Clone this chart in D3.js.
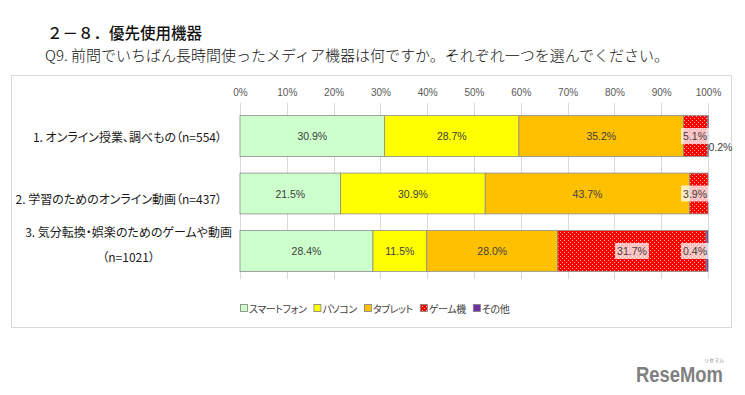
<!DOCTYPE html>
<html><head><meta charset="utf-8">
<script src="https://cdn.jsdelivr.net/npm/d3@7"></script>
<style>
body{margin:0;background:#fff}
text.p{font-feature-settings:"palt";}
</style></head><body>
<svg id="c" width="745" height="395"></svg>
<script>
// ---- data ----
const categories = ["c1", "c2", "c3"];
const categoryLabels = [
  ["1. オンライン授業、調べもの（n=554）"],
  ["2. 学習のためのオンライン動画（n=437）"],
  ["3. 気分転換・娯楽のためのゲームや動画", "（n=1021）"]
];
const seriesNames = ["スマートフォン", "パソコン", "タブレット", "ゲーム機", "その他"];
const smartphone = [30.9, 21.5, 28.4];
const pc = [28.7, 30.9, 11.5];
const tablet = [35.2, 43.7, 28.0];
const game = [5.1, 3.9, 31.7];
const other = [0.2, 0.0, 0.4];
const tickValues = [0, 10, 20, 30, 40, 50, 60, 70, 80, 90, 100];
const titleText = "２－８．優先使用機器";
const subtitleText = "Q9. 前問でいちばん長時間使ったメディア機器は何ですか。それぞれ一つを選んでください。";

// ---- setup ----
const JP = "'Noto Sans CJK JP','Noto Sans CJK SC',sans-serif";
const NUM = "'Liberation Sans','DejaVu Sans',sans-serif";
const colors = ["#CCFFCC", "#FFFF00", "#FFC000", "url(#dots)", "#7030A0"];
const seriesArrays = [smartphone, pc, tablet, game, other];

const svg = d3.select("#c");
const defs = svg.append("defs");
const pat = defs.append("pattern").attr("id", "dots").attr("patternUnits", "userSpaceOnUse")
  .attr("width", 4).attr("height", 4);
pat.append("rect").attr("width", 4).attr("height", 4).attr("fill", "#FF0000");
pat.append("rect").attr("x", 0).attr("y", 0).attr("width", 1).attr("height", 1).attr("fill", "#ffb3b3");
pat.append("rect").attr("x", 2).attr("y", 2).attr("width", 1).attr("height", 1).attr("fill", "#ffb3b3");

// title
svg.append("text").attr("x", 47).attr("y", 39).text(titleText)
  .attr("font-family", JP).attr("font-size", 15.5).attr("font-weight", 500).attr("fill", "#111");
svg.append("text").attr("x", 45).attr("y", 61).text(subtitleText)
  .attr("font-family", JP).attr("font-size", 15).attr("font-weight", 300).attr("fill", "#111");

// frame
svg.append("rect").attr("x", 11.5).attr("y", 75.5).attr("width", 720).attr("height", 252)
  .attr("fill", "#fff").attr("stroke", "#d9d9d9");

const x = d3.scaleLinear().domain([0, 100]).range([240, 708]);
const y = d3.scaleBand().domain(categories).range([107, 280]).paddingInner(0.29).paddingOuter(0.15);

// gridlines
svg.append("g").selectAll("line").data(tickValues).join("line")
  .attr("x1", d => Math.round(x(d)) + 0.5).attr("x2", d => Math.round(x(d)) + 0.5)
  .attr("y1", 103).attr("y2", 279).attr("stroke", "#d9d9d9");

// top axis labels
const axis = d3.axisTop(x).tickValues(tickValues).tickFormat(d => d + "%").tickSize(0).tickPadding(0);
const ag = svg.append("g").attr("transform", "translate(0,96)").call(axis);
ag.select(".domain").remove();
ag.selectAll("text").attr("font-family", NUM).attr("font-size", 10).attr("fill", "#595959")
  .attr("dy", 0).attr("y", 0);

// stack
const rows = categories.map((c, i) => {
  const r = { cat: c };
  seriesNames.forEach((s, k) => r[s] = seriesArrays[k][i]);
  return r;
});
const stack = d3.stack().keys(seriesNames)(rows);

const gBars = svg.append("g");
stack.forEach((layer, k) => {
  gBars.append("g").selectAll("rect").data(layer).join("rect")
    .attr("x", d => x(d[0])).attr("width", d => Math.max(0, x(d[1]) - x(d[0])))
    .attr("y", d => y(d.data.cat)).attr("height", y.bandwidth())
    .attr("fill", colors[k]).attr("stroke", d => (d[1] - d[0]) > 0 ? "#8c8c8c" : "none").attr("stroke-width", 0.8);
});

// data labels
const gLab = svg.append("g");
stack.forEach((layer, k) => {
  layer.forEach(d => {
    const v = d[1] - d[0];
    if (v <= 0) return;
    const txt = d3.format(".1f")(v) + "%";
    const cy = y(d.data.cat) + y.bandwidth() / 2;
    const boxed = k >= 3;
    let cx = (x(d[0]) + x(d[1])) / 2;
    const outside = v < 0.3;
    const t = gLab.append("text").text(txt)
      .attr("font-family", NUM).attr("font-size", 10.5).attr("fill", "#404040")
      .attr("dominant-baseline", "central");
    const w = t.node().getComputedTextLength();
    if (outside) {
      t.attr("x", x(d[1]) + 0).attr("y", cy + 11).attr("text-anchor", "start");
      return;
    }
    cx = Math.min(cx, x(100) - w / 2 - 1);
    t.attr("x", cx).attr("y", cy).attr("text-anchor", "middle");
    if (boxed) {
      gLab.insert("rect", () => t.node())
        .attr("x", cx - w / 2 - 2).attr("y", cy - 8).attr("width", w + 4).attr("height", 16)
        .attr("fill", "#fff").attr("fill-opacity", 0.75);
    }
  });
});

// category labels
const nudge = [0, 5, -7];
categoryLabels.forEach((lines, i) => {
  const cy = y(categories[i]) + y.bandwidth() / 2 + nudge[i];
  const g = svg.append("g");
  const ts = lines.map((ln, j) => g.append("text").attr("class", "p").text(ln)
    .attr("font-family", JP).attr("font-size", 12).attr("fill", "#1a1a1a")
    .attr("dominant-baseline", "central")
    .attr("y", cy + (j - (lines.length - 1) / 2) * 25));
  const maxW = d3.max(ts, t => t.node().getComputedTextLength());
  const right = 222;
  if (lines.length === 1) ts.forEach(t => t.attr("x", right).attr("text-anchor", "end"));
  else ts.forEach(t => t.attr("x", right + 10 - maxW / 2).attr("text-anchor", "middle"));
});

// legend
const lg = svg.append("g");
let lx = 240;
const ly = 308;
seriesNames.forEach((s, k) => {
  lg.append("rect").attr("x", lx + 0.5).attr("y", ly - 3.5).attr("width", 7).attr("height", 7)
    .attr("fill", colors[k]).attr("stroke", "#7f7f7f").attr("stroke-width", 0.8);
  const t = lg.append("text").attr("class", "p").attr("x", lx + 9).attr("y", ly).text(s)
    .attr("font-family", JP).attr("font-size", 10).attr("letter-spacing", -0.4).attr("fill", "#404040")
    .attr("dominant-baseline", "central");
  lx += 9 + t.node().getComputedTextLength() + 7;
});

// watermark
svg.append("text").attr("x", 636).attr("y", 382).text("ReseMom")
  .attr("font-family", "'Liberation Sans',sans-serif").attr("font-weight", "bold")
  .attr("font-size", 22).attr("fill", "#808080").attr("textLength", 87).attr("lengthAdjust", "spacingAndGlyphs");
svg.append("text").attr("x", 704).attr("y", 362).text("リセマム")
  .attr("font-family", JP).attr("font-size", 5).attr("fill", "#808080");
</script>
</body></html>
